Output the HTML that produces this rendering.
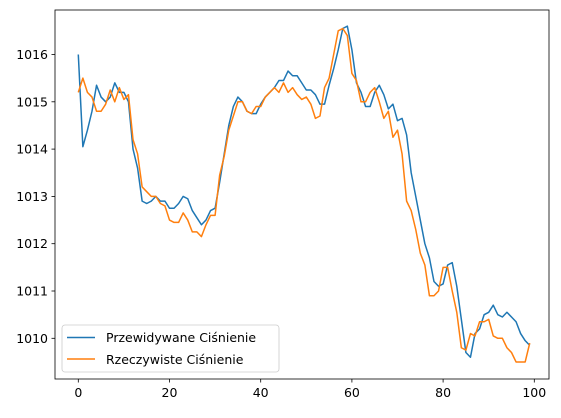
<!DOCTYPE html>
<html><head><meta charset="utf-8"><style>
body{margin:0;background:#fff;}
svg text{font-family:"DejaVu Sans","Liberation Sans",sans-serif;font-size:12.5px;fill:#000;}
</style></head><body>
<svg id="chart" width="561" height="413">
<g id="marks"></g><g id="axes"></g>
</svg>
<script>
const xTicks=[0,20,40,60,80,100];
const yTicks=[1010,1011,1012,1013,1014,1015,1016];
const predicted=[1016.0,1014.05,1014.4,1014.8,1015.35,1015.1,1015.0,1015.1,1015.4,1015.2,1015.2,1015.0,1014.0,1013.6,1012.9,1012.85,1012.9,1013.0,1012.9,1012.9,1012.75,1012.75,1012.85,1013.0,1012.95,1012.7,1012.55,1012.4,1012.5,1012.7,1012.75,1013.3,1013.9,1014.5,1014.9,1015.1,1015.0,1014.8,1014.75,1014.75,1014.95,1015.1,1015.2,1015.3,1015.45,1015.45,1015.65,1015.55,1015.55,1015.4,1015.25,1015.25,1015.15,1014.95,1014.95,1015.35,1015.7,1016.1,1016.55,1016.6,1016.1,1015.4,1015.2,1014.9,1014.9,1015.2,1015.35,1015.15,1014.85,1014.95,1014.6,1014.65,1014.3,1013.5,1013.0,1012.5,1012.0,1011.7,1011.2,1011.1,1011.15,1011.55,1011.6,1011.1,1010.4,1009.7,1009.6,1010.1,1010.2,1010.5,1010.55,1010.7,1010.5,1010.45,1010.55,1010.45,1010.35,1010.1,1009.95,1009.85];
const actual=[1015.2,1015.5,1015.2,1015.1,1014.8,1014.8,1014.95,1015.25,1015.0,1015.3,1015.05,1015.15,1014.2,1013.9,1013.2,1013.1,1013.0,1013.0,1012.85,1012.8,1012.5,1012.45,1012.45,1012.65,1012.5,1012.25,1012.25,1012.15,1012.4,1012.6,1012.6,1013.45,1013.85,1014.4,1014.7,1015.0,1015.0,1014.8,1014.75,1014.9,1014.9,1015.1,1015.2,1015.3,1015.2,1015.4,1015.2,1015.3,1015.15,1015.05,1015.1,1014.95,1014.65,1014.7,1015.3,1015.5,1016.0,1016.5,1016.55,1016.4,1015.6,1015.45,1015.0,1015.0,1015.2,1015.3,1015.0,1014.65,1014.8,1014.25,1014.4,1013.9,1012.9,1012.7,1012.3,1011.8,1011.55,1010.9,1010.9,1011.0,1011.5,1011.5,1011.0,1010.55,1009.8,1009.75,1010.1,1010.05,1010.35,1010.35,1010.4,1010.05,1010.0,1010.0,1009.8,1009.7,1009.5,1009.5,1009.5,1009.9];
const NS="http://www.w3.org/2000/svg";
const L=55,R=549,T=10,B=379;
const sx=v=>78.3+v*4.56;
const sy=v=>338.3-(v-1010)*47.3;
const marks=document.getElementById('marks'),axes=document.getElementById('axes');
function mk(tag,attrs,parent){const e=document.createElementNS(NS,tag);for(const k in attrs)e.setAttribute(k,attrs[k]);parent.appendChild(e);return e;}
function line(data,color,name){
 const p=mk('polyline',{points:data.map((v,i)=>sx(i)+','+sy(v)).join(' '),fill:'none',stroke:color,'stroke-width':1.5,'stroke-linejoin':'round'},marks);
 
 
}
line(predicted,'#1f77b4','predicted-line');
line(actual,'#ff7f0e','actual-line');
const fr=mk('rect',{x:L,y:T,width:R-L,height:B-T,fill:'none',stroke:'#000','stroke-width':0.8},axes);


xTicks.forEach(t=>{
 const x=sx(t);
 mk('line',{x1:x,x2:x,y1:B,y2:B+3.5,stroke:'#000','stroke-width':0.8},axes);
 const tx=mk('text',{x:x,y:B+18,'text-anchor':'middle'},axes);tx.textContent=t;
 
 
});
yTicks.forEach(t=>{
 const y=sy(t);
 mk('line',{x1:L-3.5,x2:L,y1:y,y2:y,stroke:'#000','stroke-width':0.8},axes);
 const tx=mk('text',{x:L-7,y:y+4.5,'text-anchor':'end'},axes);tx.textContent=t;
 
 
});
const lg=mk('g',{},axes);


mk('rect',{x:62,y:325,width:217,height:47,rx:3,fill:'#fff','fill-opacity':0.8,stroke:'#ccc','stroke-width':0.8},lg);
mk('line',{x1:67,x2:95,y1:337.5,y2:337.5,stroke:'#1f77b4','stroke-width':1.5},lg);
mk('line',{x1:67,x2:95,y1:359,y2:359,stroke:'#ff7f0e','stroke-width':1.5},lg);
const t1=mk('text',{x:106,y:342},lg);t1.textContent='Przewidywane Ciśnienie';


const t2=mk('text',{x:106,y:364},lg);t2.textContent='Rzeczywiste Ciśnienie';


</script>
</body></html>
